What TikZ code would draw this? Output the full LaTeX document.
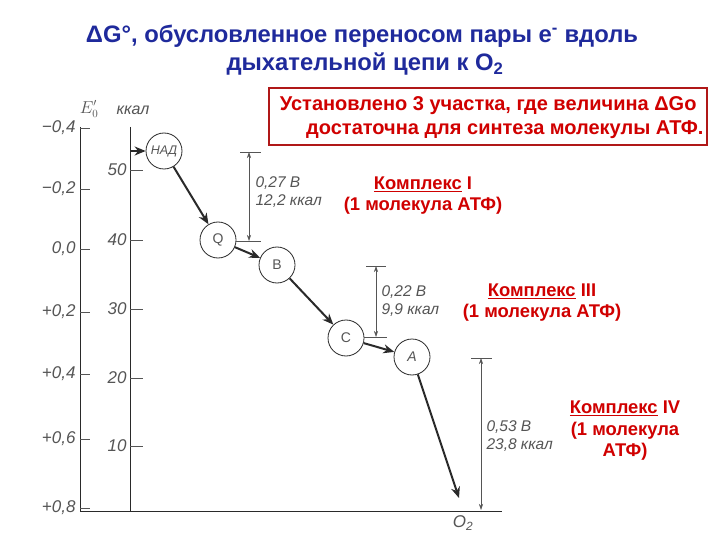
\documentclass[tikz,border=0pt]{standalone}
\usepackage{fontspec}
\setmainfont{Liberation Sans}
\usetikzlibrary{arrows.meta}
\definecolor{titleblue}{HTML}{1F2A9C}
\definecolor{textred}{HTML}{D00000}
\definecolor{boxred}{HTML}{B01818}
\definecolor{ink}{HTML}{2A2A2A}
\definecolor{pale}{HTML}{555555}
\begin{document}
\begin{tikzpicture}[x=1pt,y=-1pt,
  titletext/.style={font=\fontsize{23.8}{28}\selectfont\bfseries, text=titleblue},
  redtext/.style={font=\fontsize{20}{24}\selectfont\bfseries, text=textred, align=center},
  cplx/.style={font=\fontsize{18.4}{21.5}\selectfont\bfseries, text=textred, align=center},
  circ/.style={circle, draw=ink, line width=0.8pt, minimum size=36pt, inner sep=0pt,
     text=pale, font=\fontsize{14}{16}\selectfont},
  flow/.style={draw=ink, line width=2pt, -{Stealth[length=11pt,width=9pt]}},
  axis/.style={draw=ink, line width=1pt},
  tick/.style={draw=pale, line width=0.6pt},
  dim/.style={draw=pale, line width=0.6pt, {Stealth[length=6pt,width=4pt]}-{Stealth[length=6pt,width=4pt]}},
  dimtext/.style={anchor=west, text=pale, align=left, font=\fontsize{15.5}{18}\selectfont\itshape},
  ticklab/.style={anchor=east, text=pale, font=\fontsize{17}{19}\selectfont\itshape}
]
\useasboundingbox[fill=white] (0,0) rectangle (720,540);

% title
\node[titletext] (t1) at (362,36) {ΔG°, обусловленное переносом пары e\textsuperscript{-} вдоль};
\node[titletext] (t2) at (365,64) {дыхательной цепи к O\textsubscript{2}};

% red box
\node[draw=boxred, line width=1.2pt, minimum width=438pt, minimum height=57pt, inner sep=0pt] (box) at (488,116.5) {};
\node[redtext, anchor=east] (b1) at (700,106) {Установлено 3 участка, где величина ΔGo};
\node[redtext, anchor=east] (b2) at (707,130) {достаточна для синтеза молекулы АТФ.};

% axes
\draw[axis] (80,127) -- (80,511);
\draw[axis] (130,127) -- (130,511);
\draw[axis] (80,511) -- (502,511);
\node[text=pale, font=\fontsize{16}{18}\selectfont] (elab) at (89,109) {$E'_0$};
\node[text=pale, font=\fontsize{16}{18}\selectfont\itshape] (klab) at (133,110) {ккал};

\draw[tick] (80,128) -- (90,128); \node[ticklab] (e1) at (79,128) {−0,4};
\draw[tick] (80,189) -- (90,189); \node[ticklab] (e2) at (79,189) {−0,2};
\draw[tick] (80,249) -- (90,249); \node[ticklab] (e3) at (79,249) {0,0};
\draw[tick] (80,312) -- (90,312); \node[ticklab] (e4) at (79,312) {+0,2};
\draw[tick] (80,374) -- (90,374); \node[ticklab] (e5) at (79,374) {+0,4};
\draw[tick] (80,439) -- (90,439); \node[ticklab] (e6) at (79,439) {+0,6};
\draw[tick] (80,508) -- (90,508); \node[ticklab] (e7) at (79,508) {+0,8};

\foreach \v/\y in {50/170, 40/240, 30/309, 20/378, 10/446}{
  \draw[tick] (130,\y) -- (143,\y);
  \node[ticklab] at (130,\y) {\v};
}

% carriers
\node[circ, font=\fontsize{12.5}{14}\selectfont\itshape] (nad) at (164,151) {НАД};
\node[circ] (q) at (218,240) {Q};
\node[circ] (b) at (277,265) {В};
\node[circ] (c) at (346,338) {С};
\node[circ, font=\fontsize{14}{16}\selectfont\itshape] (a) at (412,357) {А};
\coordinate (in) at (130,151);
\coordinate (o2tip) at (459,498);
\node[text=pale, font=\fontsize{17}{19}\selectfont\itshape] (o2) at (463,523) {O\textsubscript{2}};

\draw[flow] (in) -- (nad);
\draw[flow] (nad) -- (q);
\draw[flow] (q) -- (b);
\draw[flow] (b) -- (c);
\draw[flow] (c) -- (a);
\draw[flow] (a) -- (o2tip);

% dimension 1
\coordinate (d1t) at (249,152);
\coordinate (d1b) at (249,241);
\draw[tick] (240,152) -- (261,152);
\draw[tick] (q.east |- d1b) -- (261,241);
\draw[dim] (d1t) -- (d1b);
\node[dimtext] (l1) at (252,192) {0,27 В\\12,2 ккал};

% dimension 2
\coordinate (d2t) at (376,266);
\coordinate (d2b) at (376,337);
\draw[tick] (366,266) -- (386,266);
\draw[tick] (c.east |- d2b) -- (387,337);
\draw[dim] (d2t) -- (d2b);
\node[dimtext] (l2) at (378,301) {0,22 В\\9,9 ккал};

% dimension 3
\coordinate (d3t) at (481,358);
\coordinate (d3b) at (481,510);
\draw[tick] (471,358) -- (492,358);
\draw[dim] (d3t) -- (d3b);
\node[dimtext] (l3) at (483,436) {0,53 В\\23,8 ккал};

% complexes
\node[cplx] (k1) at (423,195.5) {\underline{Комплекс} I\\(1 молекула АТФ)};
\node[cplx] (k3) at (542,302.5) {\underline{Комплекс} III\\(1 молекула АТФ)};
\node[cplx] (k4) at (625,431) {\underline{Комплекс} IV\\(1 молекула\\АТФ)};
\end{tikzpicture}
\end{document}
